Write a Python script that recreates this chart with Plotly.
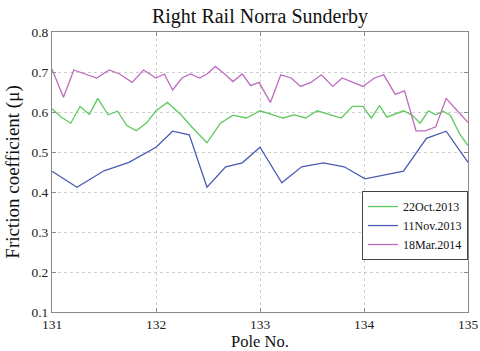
import plotly.graph_objects as go

# Friction measurements along the right rail, Norra Sunderby
oct_pole = [131.00, 131.09, 131.18, 131.27, 131.36, 131.44, 131.54, 131.63, 131.72, 131.81,
            131.91, 132.00, 132.11, 132.24, 132.36, 132.49, 132.62, 132.74, 132.87, 133.00,
            133.11, 133.22, 133.33, 133.44, 133.55, 133.66, 133.78, 133.89, 133.99, 134.07,
            134.15, 134.22, 134.30, 134.38, 134.46, 134.54, 134.62, 134.69, 134.76, 134.83,
            134.92, 135.00]
oct_mu = [0.608, 0.587, 0.572, 0.614, 0.594, 0.634, 0.593, 0.602, 0.566, 0.553,
          0.573, 0.603, 0.624, 0.593, 0.558, 0.523, 0.572, 0.592, 0.585, 0.603,
          0.594, 0.585, 0.593, 0.585, 0.603, 0.594, 0.585, 0.614, 0.614, 0.585,
          0.616, 0.587, 0.595, 0.603, 0.593, 0.572, 0.603, 0.593, 0.602, 0.592,
          0.545, 0.516]

nov_pole = [131.00, 131.24, 131.50, 131.74, 132.00, 132.16, 132.32, 132.49, 132.67, 132.83,
            133.00, 133.21, 133.40, 133.61, 133.81, 134.01, 134.38, 134.60, 134.79, 135.00]
nov_mu = [0.452, 0.412, 0.453, 0.474, 0.512, 0.552, 0.543, 0.412, 0.463, 0.473,
          0.512, 0.423, 0.463, 0.473, 0.463, 0.433, 0.452, 0.534, 0.552, 0.474]

mar_pole = [131.00, 131.11, 131.21, 131.32, 131.43, 131.55, 131.65, 131.77, 131.88, 132.00,
            132.08, 132.16, 132.25, 132.33, 132.42, 132.49, 132.57, 132.66, 132.74, 132.83,
            132.91, 132.99, 133.10, 133.20, 133.30, 133.39, 133.49, 133.59, 133.70, 133.79,
            133.89, 133.99, 134.10, 134.19, 134.30, 134.39, 134.50, 134.59, 134.69, 134.79,
            134.89, 135.00]
mar_mu = [0.707, 0.637, 0.705, 0.695, 0.685, 0.705, 0.695, 0.674, 0.705, 0.685,
          0.695, 0.655, 0.685, 0.695, 0.685, 0.695, 0.714, 0.695, 0.676, 0.695,
          0.666, 0.674, 0.624, 0.693, 0.685, 0.664, 0.674, 0.693, 0.664, 0.685,
          0.675, 0.664, 0.685, 0.693, 0.644, 0.653, 0.553, 0.553, 0.563, 0.634,
          0.605, 0.574]

x_ticks = [131, 132, 133, 134, 135]
y_ticks = [0.1, 0.2, 0.3, 0.4, 0.5, 0.6, 0.7, 0.8]

SERIF = "Liberation Serif"

fig = go.Figure()
fig.add_trace(go.Scatter(x=oct_pole, y=oct_mu, mode="lines", name="22Oct.2013",
                         line=dict(color="#5cc95c", width=1.3)))
fig.add_trace(go.Scatter(x=nov_pole, y=nov_mu, mode="lines", name="11Nov.2013",
                         line=dict(color="#4a5bb5", width=1.3)))
fig.add_trace(go.Scatter(x=mar_pole, y=mar_mu, mode="lines", name="18Mar.2014",
                         line=dict(color="#bd6cbd", width=1.3)))

axis_common = dict(
    showline=True, linecolor="#8a8a8a", linewidth=1, mirror="ticks",
    ticks="inside", ticklen=4, tickcolor="#8a8a8a",
    showgrid=True, gridcolor="#cfcfcf", griddash="dot", gridwidth=1,
    zeroline=False, automargin=False,
    tickfont=dict(family=SERIF, size=13.5, color="#222222"),
)

fig.update_xaxes(range=[131, 135], tickvals=x_ticks, ticktext=[str(t) for t in x_ticks],
                 **axis_common)
fig.update_yaxes(range=[0.1, 0.8], tickvals=y_ticks, ticktext=[f"{t:.1f}" for t in y_ticks],
                 title=dict(text="Friction coefficient (\u03bc)",
                            font=dict(family=SERIF, size=19, color="#111111"), standoff=6),
                 **axis_common)

# x-axis title placed as an annotation just under the tick labels
fig.add_annotation(text="Pole No.", xref="paper", yref="paper", x=0.5, y=-0.068,
                   xanchor="center", yanchor="top", showarrow=False, borderpad=0,
                   font=dict(family=SERIF, size=16.5, color="#111111"))

fig.update_layout(
    width=480, height=351,
    margin=dict(l=52, r=12, t=32, b=39),
    paper_bgcolor="white", plot_bgcolor="white",
    font=dict(family=SERIF),
    title=dict(text="Right Rail Norra Sunderby", x=0.5, xref="paper", xanchor="center",
               y=0.955, yref="container", yanchor="middle",
               font=dict(family=SERIF, size=20, color="#111111")),
    legend=dict(x=1, y=0.432, xanchor="right", yanchor="top",
                bgcolor="white", bordercolor="#444444", borderwidth=1,
                font=dict(family=SERIF, size=12, color="#111111"),
                itemwidth=30, tracegroupgap=0),
    showlegend=True,
)

fig.write_html("out.html")
